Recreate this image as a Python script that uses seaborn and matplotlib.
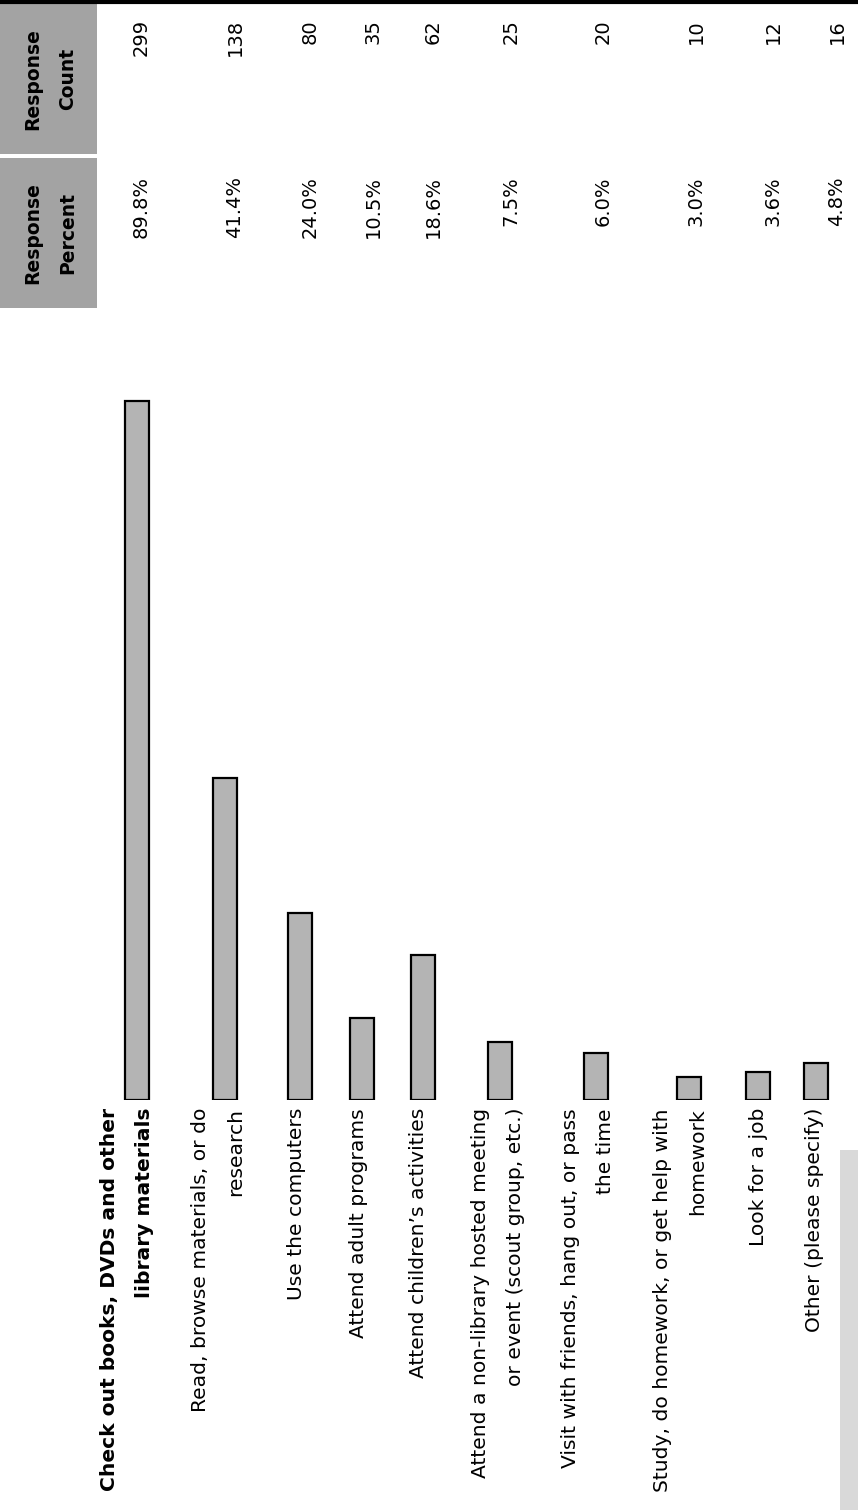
import numpy as np
import pandas as pd
import matplotlib
matplotlib.use("Agg")
import matplotlib.pyplot as plt
from matplotlib.patches import Rectangle
import seaborn as sns

# ---------------- data ----------------
categories = [
    "Check out books, DVDs and other\nlibrary materials",
    "Read, browse materials, or do\nresearch",
    "Use the computers",
    "Attend adult programs",
    "Attend children\u2019s activities",
    "Attend a non-library hosted meeting\nor event (scout group, etc.)",
    "Visit with friends, hang out, or pass\nthe time",
    "Study, do homework, or get help with\nhomework",
    "Look for a job",
    "Other (please specify)",
]
percent = [89.8, 41.4, 24.0, 10.5, 18.6, 7.5, 6.0, 3.0, 3.6, 4.8]
counts = [299, 138, 80, 35, 62, 25, 20, 10, 12, 16]
header_percent = "Response\nPercent"
header_count = "Response\nCount"

# ---------------- layout (pixels) ----------------
W, H = 858, 1510
label_x = [127, 218, 297, 359, 419, 498, 588, 680, 758, 815]
bar_x = [137, 225, 300, 362, 423, 500, 596, 689, 758, 816]
value_x = [141, 235, 310, 373, 433, 511, 603, 696, 773, 837]
BASE = 1100          # bar baseline (pixels from top)
PX_PER_PCT = 7.78    # bar length scale

sns.set_theme(style="white")
plt.rcParams["font.family"] = ["DejaVu Sans"]

fig = plt.figure(figsize=(W / 100, H / 100), dpi=100)
fig.patch.set_facecolor("white")

# bar axes: y in percent, x in pixels
bx = fig.add_axes([0, (H - BASE) / H, 1, BASE / H])
df = pd.DataFrame({"x": bar_x, "pct": percent})
min_sp = np.min(np.diff(sorted(df["x"])))
sns.barplot(data=df, x="x", y="pct", native_scale=True, width=24 / min_sp,
            color="#b4b4b4", saturation=1, edgecolor="black", linewidth=1.6,
            errorbar=None, ax=bx)
bx.set_xlim(0, W)
bx.set_ylim(0, BASE / PX_PER_PCT)
bx.axis("off")
bx.patch.set_alpha(0)

# text overlay axes in pixel coords
tx = fig.add_axes([0, 0, 1, 1], zorder=-1)
tx.set_xlim(0, W)
tx.set_ylim(H, 0)
tx.axis("off")

# top border line
tx.plot([0, W], [1.5, 1.5], color="black", lw=3, solid_capstyle="butt")

# header cells
tx.add_patch(Rectangle((0, 4), 97, 150, facecolor="#a3a3a3", edgecolor="none"))
tx.add_patch(Rectangle((0, 158), 97, 150, facecolor="#a3a3a3", edgecolor="none"))
tx.text(50, 79, header_count, rotation=90, ha="center", va="center",
        multialignment="center", fontsize=13.5, fontweight="bold",
        linespacing=2.1, color="black")
tx.text(50, 233, header_percent, rotation=90, ha="center", va="center",
        multialignment="center", fontsize=13.5, fontweight="bold",
        linespacing=2.1, color="black")

# right scanner edge
tx.add_patch(Rectangle((840, 1150), 18, 360, facecolor="#d9d9d9", edgecolor="none"))

# category labels
for i, (cx, lab) in enumerate(zip(label_x, categories)):
    tx.text(cx, BASE + 8, lab, rotation=90, ha="center", va="top",
            multialignment="right", fontsize=14.6, linespacing=2.1,
            fontweight="bold" if i == 0 else "normal", color="black")

# table values
for vx, p, c in zip(value_x, percent, counts):
    tx.text(vx, 176, f"{p:.1f}%", rotation=90, ha="center", va="top",
            fontsize=14, color="black")
    tx.text(vx, 19, f"{c}", rotation=90, ha="center", va="top",
            fontsize=14, color="black")

fig.savefig("out.png", dpi=100, facecolor="white")
